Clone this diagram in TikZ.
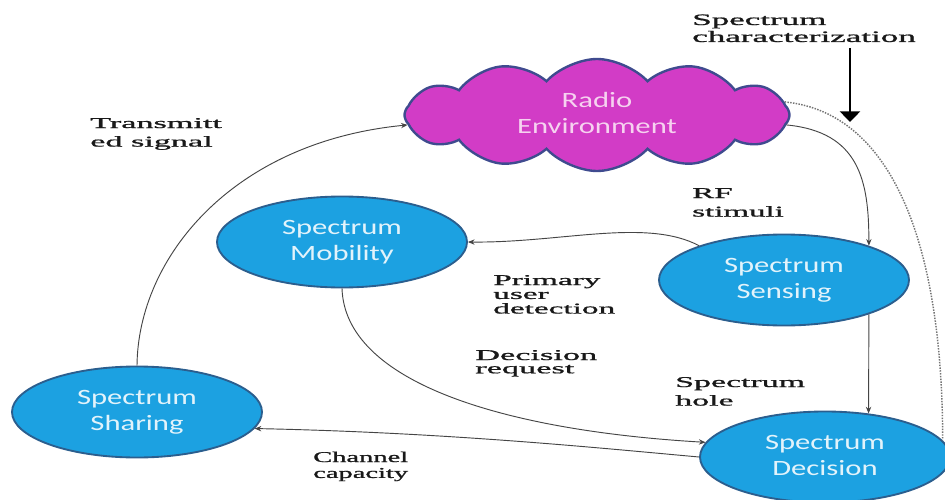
\documentclass[tikz,border=0pt]{standalone}
\usepackage{fontspec}
\usepackage{graphicx}
\setmainfont{Liberation Serif}[BoldFont={Liberation Serif},BoldFeatures={FakeBold=0.9}]
\newfontfamily\calib{Carlito}
\usetikzlibrary{shapes.geometric,shapes.symbols,arrows.meta}

\definecolor{cloudfill}{HTML}{D23CC6}
\definecolor{cloudline}{HTML}{3F4B8F}
\definecolor{cloudtext}{HTML}{F6D2F0}
\definecolor{blobfill}{HTML}{1CA1E1}
\definecolor{blobline}{HTML}{2B5E8E}
\definecolor{blobtext}{HTML}{E2F3FB}
\definecolor{wirecol}{HTML}{454545}

\newcommand\px{0.0265cm}
% horizontally stretched multi-line text: #1 stretch, #2 column spec, #3 lines
\newcommand\wtext[3]{\scalebox{#1}[1]{\begin{tabular}[t]{@{}#2@{}}#3\end{tabular}}}
\newcommand\ctext[2]{\scalebox{#1}[1]{\begin{tabular}{@{}c@{}}#2\end{tabular}}}

\tikzset{
  blob/.style={ellipse, draw=blobline, line width=1.4pt, fill=blobfill,
    minimum width=250*\px, minimum height=91*\px, inner sep=0pt,
    text=blobtext, font=\calib\fontsize{16.5}{19.5}\selectfont},
  lbl/.style={anchor=base west, inner sep=0pt, text=black!90,
    font=\bfseries\fontsize{11.3}{14}\selectfont},
  wire/.style={draw=wirecol, line width=0.7pt, -{Stealth[length=5pt,width=4pt]}},
  dotwire/.style={draw=wirecol!75, line width=1.1pt, densely dotted},
}

\begin{document}
\begin{tikzpicture}[x=\px, y=-\px]
\fill[white] (0,0) rectangle (945,500);
\useasboundingbox (0,0) rectangle (945,500);

% the environment cloud
\node[cloud, cloud puffs=12, cloud puff arc=95, cloud ignores aspect,
      draw=cloudline, line width=1.8pt, fill=cloudfill,
      minimum width=385*\px, minimum height=112*\px, inner sep=0pt,
      text=cloudtext, font=\calib\fontsize{16.5}{19.5}\selectfont]
  (cloud) at (597,115) {\ctext{1.4}{Radio\\Environment}};

% cognitive cycle functions
\node[blob] (mob)   at (342,242) {\ctext{1.4}{Spectrum\\Mobility}};
\node[blob] (sens)  at (784,280) {\ctext{1.4}{Spectrum\\Sensing}};
\node[blob] (share) at (137,412) {\ctext{1.4}{Spectrum\\Sharing}};
\node[blob] (dec)   at (825,457) {\ctext{1.4}{Spectrum\\Decision}};

% labels
\node[lbl, font=\bfseries\fontsize{12}{12.8}\selectfont] (lchar) at (692,25)
  {\wtext{2.2}{l}{Spectrum\\characterization}};
\node[lbl] (ltx)   at (90,128)  {\wtext{2.28}{l}{Transmitt\\ed signal}};
\node[lbl] (lrf)   at (692,198) {\wtext{2.2}{l}{RF\\stimuli}};
\node[lbl, font=\bfseries\fontsize{11.3}{10.5}\selectfont] (lpu) at (493,285)
  {\wtext{2.22}{l}{Primary\\user\\detection}};
\node[lbl, font=\bfseries\fontsize{11.3}{10}\selectfont] (ldr) at (475,360)
  {\wtext{2.29}{l}{Decision\\request}};
\node[lbl] (lhole) at (675,387) {\wtext{2.26}{l}{Spectrum\\hole}};
\node[lbl, font=\bfseries\fontsize{11.3}{12}\selectfont] (lcap) at (313,462)
  {\wtext{1.9}{l}{Channel\\capacity}};

% characterization input arrow
\coordinate (chartop) at (850,48);
\coordinate (charbot) at (850,122);
\draw[line width=2pt, -{Triangle[length=8pt,width=15pt]}] (chartop) -- (charbot);

% connectors
\draw[wire] (share.north) .. controls +(1,-108) and +(-175,17) .. (cloud.183);
\draw[wire] (cloud.-3) .. controls +(73,7) and +(0,-65) .. (sens.22);
\draw[wire] (sens.-22) -- (dec.45);
\draw[dotwire] (cloud.4) .. controls +(110,11) and +(0,-191) .. (dec.8);
\draw[wire] (sens.158) .. controls +(-53,-28) and +(93,1) .. (mob.east);
\draw[wire] (mob.south) .. controls +(3,93) and +(-205,-12) .. (dec.173);
\draw[wire] (dec.west) .. controls +(-100,-9) and +(193,4) .. (share.-8);
\end{tikzpicture}
\end{document}
